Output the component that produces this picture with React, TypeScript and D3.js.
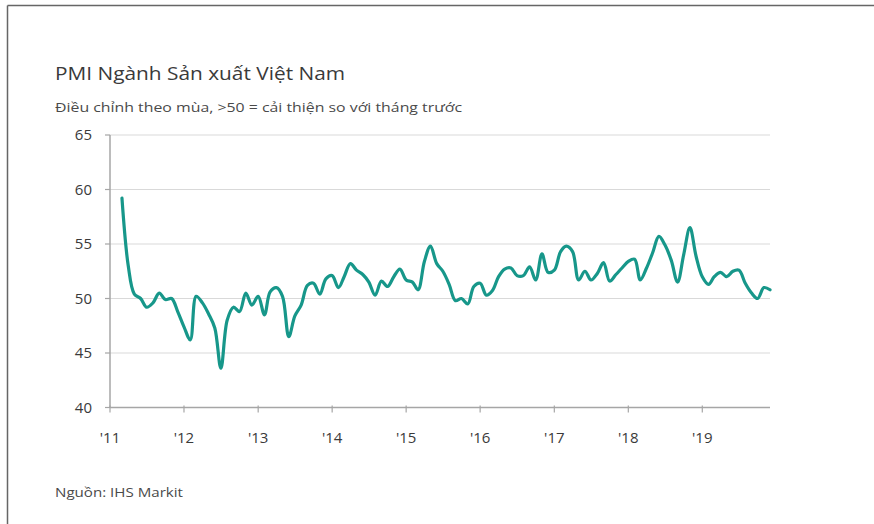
import React from "react";
import * as d3 from "d3";

// Vietnam Manufacturing PMI, monthly, Mar 2011 – Dec 2019
const pmi2011 = [59.2, 53.0, 50.4, 50.0, 49.2, 49.6, 50.5, 49.9, 50.0, 48.8]; // Mar–Dec
const pmi2012 = [47.4, 46.2, 50.2, 49.6, 48.6, 47.3, 43.6, 48.0, 49.2, 48.8, 50.5, 49.4];
const pmi2013 = [50.2, 48.5, 50.6, 51.0, 50.2, 46.5, 48.4, 49.4, 51.2, 51.4, 50.4, 51.8];
const pmi2014 = [52.1, 51.0, 52.0, 53.2, 52.6, 52.2, 51.5, 50.3, 51.6, 51.1, 52.0, 52.7];
const pmi2015 = [51.7, 51.5, 50.8, 53.4, 54.8, 53.2, 52.5, 51.3, 49.8, 50.0, 49.5, 51.1];
const pmi2016 = [51.4, 50.3, 50.7, 52.0, 52.7, 52.8, 52.1, 52.1, 52.9, 51.7, 54.1, 52.4];
const pmi2017 = [52.6, 54.3, 54.8, 54.3, 51.7, 52.5, 51.7, 52.3, 53.3, 51.6, 52.2, 52.8];
const pmi2018 = [53.4, 53.6, 51.7, 52.8, 54.2, 55.7, 54.9, 53.5, 51.5, 54.0, 56.5, 53.9];
const pmi2019 = [52.0, 51.3, 52.0, 52.4, 52.0, 52.5, 52.6, 51.4, 50.5, 50.0, 51.0, 50.8];

const seriesStart = { year: 2011, month: 2 }; // March 2011
const pmiValues = [
  ...pmi2011, ...pmi2012, ...pmi2013, ...pmi2014, ...pmi2015,
  ...pmi2016, ...pmi2017, ...pmi2018, ...pmi2019,
];

const yTicks = [40, 45, 50, 55, 60, 65];
const tickYears = [2011, 2012, 2013, 2014, 2015, 2016, 2017, 2018, 2019];
const tickLabels = ["'11", "'12", "'13", "'14", "'15", "'16", "'17", "'18", "'19"];

const title = "PMI Ngành Sản xuất Việt Nam";
const subtitle = "Điều chỉnh theo mùa, >50 = cải thiện so với tháng trước";
const source = "Nguồn:  IHS Markit";

const W = 874;
const H = 524;

export default function App() {
  const x = d3
    .scaleTime()
    .domain([new Date(2011, 0, 1), new Date(2019, 11, 1)])
    .range([110, 770]);
  const y = d3.scaleLinear().domain([40, 65]).range([407.5, 135]);

  const data = pmiValues.map((v, i) => ({
    date: new Date(seriesStart.year, seriesStart.month + i, 1),
    value: v,
  }));

  const line = d3
    .line<{ date: Date; value: number }>()
    .x((d) => x(d.date))
    .y((d) => y(d.value))
    .curve(d3.curveCatmullRom.alpha(0.5));

  const font = "'Open Sans', 'Noto Sans', sans-serif";
  const x0 = x.range()[0];
  const x1 = x.range()[1];

  return (
    <svg
      width={W}
      height={H}
      viewBox={`0 0 ${W} ${H}`}
      style={{ position: "absolute", left: 0, top: 0, background: "#fff" }}
    >
      <rect x={0} y={0} width={W} height={H} fill="#fff" />
      {/* frame */}
      <line x1={7.5} y1={5.5} x2={W} y2={5.5} stroke="#666" strokeWidth={1.5} />
      <line x1={7.5} y1={5.5} x2={7.5} y2={H} stroke="#666" strokeWidth={1.5} />

      {/* titles */}
      <text
        x={55}
        y={80}
        fontFamily={font}
        fontSize={19}
        fill="#3a3a3a"
        textLength={290}
        lengthAdjust="spacingAndGlyphs"
      >
        {title}
      </text>
      <text
        x={55}
        y={112}
        fontFamily={font}
        fontSize={13}
        fontWeight={500}
        fill="#4a4a4a"
        textLength={407}
        lengthAdjust="spacingAndGlyphs"
      >
        {subtitle}
      </text>

      {/* gridlines */}
      {yTicks
        .filter((t) => t !== 40)
        .map((t) => (
          <line
            key={"g" + t}
            x1={x0}
            x2={x1}
            y1={y(t)}
            y2={y(t)}
            stroke="#d9d9d9"
            strokeWidth={1.2}
          />
        ))}

      {/* y axis */}
      <line x1={x0} x2={x0} y1={y(65)} y2={y(40)} stroke="#a6a6a6" strokeWidth={1.5} />
      {yTicks.map((t) => (
        <g key={"y" + t}>
          <line x1={x0 - 5} x2={x0} y1={y(t)} y2={y(t)} stroke="#a6a6a6" strokeWidth={1.2} />
          <text
            x={92}
            y={y(t) + 5}
            textAnchor="end"
            fontFamily={font}
            fontSize={15}
            fontWeight={500}
            fill="#3a3a3a"
          >
            {t}
          </text>
        </g>
      ))}

      {/* x axis */}
      <line x1={x0} x2={x1} y1={y(40)} y2={y(40)} stroke="#a6a6a6" strokeWidth={1.5} />
      {tickYears.map((yr, i) => {
        const px = x(new Date(yr, 0, 1));
        return (
          <g key={"x" + yr}>
            <line x1={px} x2={px} y1={y(40) - 2} y2={y(40) + 5} stroke="#a6a6a6" strokeWidth={1.2} />
            <text
              x={px}
              y={443}
              textAnchor="middle"
              fontFamily={font}
              fontSize={15}
              fontWeight={500}
              fill="#3a3a3a"
            >
              {tickLabels[i]}
            </text>
          </g>
        );
      })}

      {/* series */}
      <path
        d={line(data) || ""}
        fill="none"
        stroke="#17978a"
        strokeWidth={3.2}
        strokeLinejoin="round"
        strokeLinecap="round"
      />

      {/* source */}
      <text
        x={55}
        y={497}
        fontFamily={font}
        fontSize={13.5}
        fill="#4a4a4a"
        textLength={128}
        lengthAdjust="spacingAndGlyphs"
      >
        {source}
      </text>
    </svg>
  );
}
